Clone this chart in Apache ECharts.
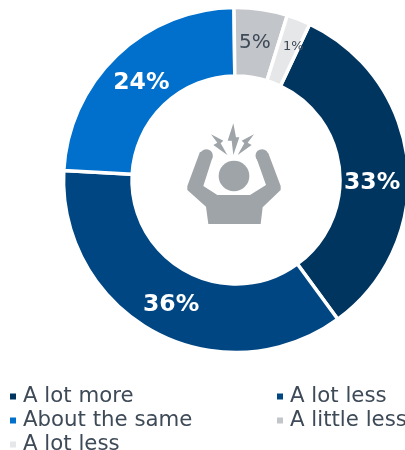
<!DOCTYPE html>
<html>
<head>
<meta charset="utf-8">
<style>html,body{margin:0;padding:0;background:#fff}#c{width:405px;height:450px}</style>
<script src="https://cdn.jsdelivr.net/npm/echarts@6/dist/echarts.min.js"></script>
</head>
<body>
<div id="c"></div>
<script>
// Survey answers, in drawing order around the ring
const categories = ['A lot more', 'A lot less', 'About the same', 'A little less', 'A lot less'];
const values = [33, 36, 24, 5, 1];
const colors = ['#00355f', '#004682', '#0070cc', '#c2c5c9', '#e6e7e9'];

const FONT = '"DejaVu Sans", Verdana, sans-serif';
const INK = '#3e4a57';
const ICON = '#9fa4a8';

// Two answers share a wording, so each slice gets a unique key and the legend trims it back
const keys = categories.map((c, i) => c + ' '.repeat(categories.slice(0, i).filter(p => p === c).length));

const labelStyles = [
  { color: '#fff', fontWeight: 'bold', fontSize: 23.5, offset: [-4.5, 16.5] },
  { color: '#fff', fontWeight: 'bold', fontSize: 23.5, offset: [2.5, 1] },
  { color: '#fff', fontWeight: 'bold', fontSize: 23.5, offset: [3, 5] },
  { color: INK, fontSize: 20, offset: [-1.5, 3] },
  { color: INK, fontSize: 13, offset: [6, -2] }
];

const legendBase = {
  orient: 'vertical',
  icon: 'rect',
  itemWidth: 8,
  itemHeight: 8,
  itemGap: 1,
  padding: 0,
  height: 120,
  selectedMode: false,
  formatter: n => n.trim(),
  textStyle: { fontFamily: FONT, fontSize: 21.3, color: INK, padding: [0, 0, 0, 1], lineHeight: 23 }
};

// Alarm icon, drawn in a local 3x grid and scaled down into the hole of the ring
const armsAndBody = [[210,155],[172,258],[172,270],[228,320],[235,372],[392,372],[398,322],[452,270],[452,258],[415,160],[378,170],[408,255],[360,285],[262,285],[220,258],[248,170]];
const bolts = [
  [[310,70],[318,112],[328,112],[310,165],[305,122],[293,122]],
  [[243,103],[280,122],[272,130],[292,165],[250,135],[262,128]],
  [[372,103],[335,122],[343,130],[323,165],[365,135],[353,128]]
];
const iconStyle = { fill: ICON };
const iconChildren = [
  { type: 'polygon', shape: { points: armsAndBody }, style: iconStyle },
  { type: 'circle', shape: { cx: 229, cy: 167, r: 19.5 }, style: iconStyle },
  { type: 'circle', shape: { cx: 396, cy: 167, r: 19.5 }, style: iconStyle },
  { type: 'circle', shape: { cx: 312, cy: 228, r: 46 }, style: iconStyle }
].concat(bolts.map(p => ({ type: 'polygon', shape: { points: p }, style: iconStyle })));

const chart = echarts.init(document.getElementById('c'), null, { renderer: 'canvas' });
chart.setOption({
  animation: false,
  backgroundColor: '#fff',
  legend: [
    Object.assign({}, legendBase, { left: 8, top: 385, data: [keys[0], keys[2], keys[4]] }),
    Object.assign({}, legendBase, { left: 275, top: 385, data: [keys[1], keys[3]] })
  ],
  graphic: [{
    type: 'group', x: 130, y: 100, scaleX: 1 / 3, scaleY: 1 / 3, silent: true, children: iconChildren
  }],
  series: [{
    type: 'pie',
    center: [236, 180],
    radius: [104, 172.5],
    startAngle: 64.7,
    minAngle: 8,
    avoidLabelOverlap: false,
    silent: true,
    itemStyle: { borderColor: '#fff', borderWidth: 3.5 },
    label: { show: true, position: 'inside', formatter: '{c}%', fontFamily: FONT },
    labelLine: { show: false },
    data: values.map((v, i) => ({
      name: keys[i],
      value: v,
      itemStyle: { color: colors[i] },
      label: labelStyles[i]
    }))
  }]
});
</script>
</body>
</html>
